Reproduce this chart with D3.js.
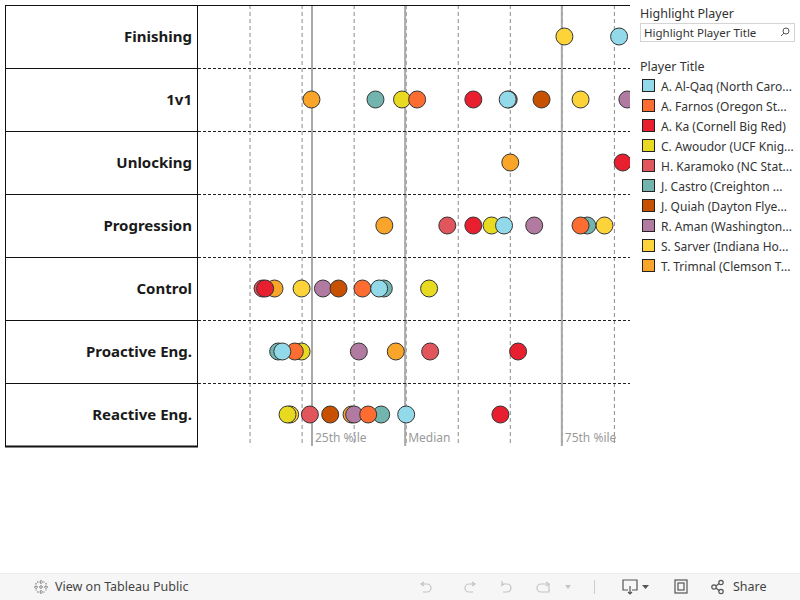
<!DOCTYPE html>
<html><head><meta charset="utf-8">
<script src="https://cdn.jsdelivr.net/npm/d3@7"></script>
<style>
html,body{margin:0;padding:0;background:#fff;}
svg{display:block;font-family:"Noto Sans","DejaVu Sans",sans-serif;}
</style></head>
<body><svg id="chart" width="800" height="600"></svg>
<script>
// ---- DATA ----
const metrics = ["Finishing","1v1","Unlocking","Progression","Control","Proactive Eng.","Reactive Eng."];
const players = ["A. Al-Qaq (North Caro...","A. Farnos (Oregon St...","A. Ka (Cornell Big Red)","C. Awoudor (UCF Knig...","H. Karamoko (NC Stat...","J. Castro (Creighton ...","J. Quiah (Dayton Flye...","R. Aman (Washington...","S. Sarver (Indiana Ho...","T. Trimnal (Clemson T..."];
const playerColors = ["#92dae9","#fd6d31","#e81f2f","#e7da21","#e0565c","#72b5af","#c75100","#b07aa1","#fcd43a","#f8a52a"];
// one value per metric (in metric order); null = not shown
const alQaq    = [8.09, 5.95, null, 5.88, 3.48, 1.62, 4.00];
const farnos   = [null, 4.21, null, 7.35, 3.16, 1.86, 3.27];
const ka       = [null, 5.29, 8.16, 5.29, 1.29, 6.15, 5.81];
const awoudor  = [null, 3.92, null, 5.64, 4.44, 1.99, 1.72];
const karamoko = [null, 5.97, null, 4.79, 1.24, 4.46, 2.15];
const castro   = [null, 3.41, null, 7.48, 3.57, 1.54, 3.52];
const quiah    = [null, 6.60, null, null, 2.70, null, 2.54];
const aman     = [null, 8.25, null, 6.46, 2.40, 3.09, 3.00];
const sarver   = [7.04, 7.35, null, 7.81, 1.99, null, 1.77];
const trimnal  = [null, 2.18, 6.00, 3.58, 1.47, 3.80, 2.95];
const playerValues = [alQaq, farnos, ka, awoudor, karamoko, castro, quiah, aman, sarver, trimnal];
const gridTicks = [1,2,3,4,5,6,7,8];
const refValues = [2.19, 3.98, 6.99];
const refLabels = ["25th %ile","Median","75th %ile"];

// ---- LAYOUT ----
const svg = d3.select("#chart");
const labelLeft = 5, plotLeft = 198, plotRight = 630, topY = 5, bottomY = 446;

const x = d3.scaleLinear().domain([0, 8.3]).range([plotLeft, plotRight]);
const y = d3.scaleBand().domain(metrics).range([topY, bottomY]);

// clip
svg.append("defs").append("clipPath").attr("id","plotclip")
  .append("rect").attr("x",plotLeft).attr("y",topY).attr("width",plotRight-plotLeft).attr("height",bottomY-topY);

const plot = svg.append("g").attr("clip-path","url(#plotclip)");

// vertical dashed gridlines
plot.selectAll("line.grid").data(gridTicks).join("line")
  .attr("x1",d=>x(d)).attr("x2",d=>x(d)).attr("y1",topY).attr("y2",bottomY)
  .attr("stroke","#8a8a8a").attr("stroke-width",1).attr("stroke-dasharray","4,3");

// reference lines
plot.selectAll("line.ref").data(refValues).join("line")
  .attr("x1",d=>x(d)).attr("x2",d=>x(d)).attr("y1",topY).attr("y2",bottomY)
  .attr("stroke","#a9a9a9").attr("stroke-width",2);

// horizontal dashed row separators in plot
const inner = metrics.slice(1);
plot.selectAll("line.row").data(inner).join("line")
  .attr("x1",plotLeft).attr("x2",plotRight).attr("y1",d=>Math.round(y(d))+0.5).attr("y2",d=>Math.round(y(d))+0.5)
  .attr("stroke","#222").attr("stroke-width",1).attr("stroke-dasharray","3,2");

// ref labels
svg.selectAll("text.ref").data(refValues).join("text")
  .attr("x",d=>x(d)+3).attr("y",bottomY-4)
  .attr("font-size",12).attr("fill","#9a9a9a").text((d,i)=>refLabels[i]);

// dots: earlier players drawn on top
const dots = [];
for (let p = players.length-1; p >= 0; p--) {
  playerValues[p].forEach((v,m)=>{ if (v!==null) dots.push({p, m, v}); });
}
plot.selectAll("circle.dot").data(dots).join("circle")
  .attr("cx",d=>x(d.v)).attr("cy",d=>y(metrics[d.m])+y.bandwidth()/2)
  .attr("r",8.5).attr("fill",d=>playerColors[d.p])
  .attr("stroke","#333").attr("stroke-width",1);

// label panel
const lab = svg.append("g");
metrics.forEach((m,i)=>{
  lab.append("text").attr("x",192).attr("y",y(m)+y.bandwidth()/2+5)
    .attr("text-anchor","end").attr("font-size",15).attr("font-weight","bold").attr("fill","#1a1a1a").text(m);
});
lab.selectAll("line.sep").data(inner).join("line")
  .attr("x1",labelLeft).attr("x2",plotLeft).attr("y1",d=>Math.round(y(d))+0.5).attr("y2",d=>Math.round(y(d))+0.5)
  .attr("stroke","#111").attr("stroke-width",1);
// borders
svg.append("line").attr("x1",labelLeft).attr("x2",plotLeft-1).attr("y1",topY+0.5).attr("y2",topY+0.5).attr("stroke","#111");
svg.append("line").attr("x1",plotLeft).attr("x2",plotRight).attr("y1",topY+0.5).attr("y2",topY+0.5).attr("stroke","#111");
svg.append("line").attr("x1",labelLeft+0.5).attr("x2",labelLeft+0.5).attr("y1",topY).attr("y2",bottomY).attr("stroke","#111");
svg.append("line").attr("x1",plotLeft-0.5).attr("x2",plotLeft-0.5).attr("y1",topY).attr("y2",bottomY).attr("stroke","#111");
svg.append("line").attr("x1",labelLeft).attr("x2",plotLeft).attr("y1",bottomY+0.5).attr("y2",bottomY+0.5).attr("stroke","#111").attr("stroke-width",2);

// ---- LEGEND ----
const lg = svg.append("g");
lg.append("text").attr("x",640).attr("y",18).attr("font-size",12.5).attr("fill","#333").text("Highlight Player");
lg.append("rect").attr("x",640.5).attr("y",23.5).attr("width",154).attr("height",18).attr("fill","#fff").attr("stroke","#d4d4d4");
lg.append("text").attr("x",644).attr("y",37).attr("font-size",11.5).attr("fill","#333").text("Highlight Player Title");
lg.append("circle").attr("cx",786).attr("cy",31).attr("r",3).attr("fill","none").attr("stroke","#555").attr("stroke-width",1);
lg.append("line").attr("x1",784).attr("y1",33).attr("x2",781).attr("y2",36).attr("stroke","#555").attr("stroke-width",1);
lg.append("text").attr("x",640).attr("y",71).attr("font-size",12.5).attr("fill","#333").text("Player Title");
const items = lg.selectAll("g.item").data(players).join("g").attr("transform",(d,i)=>`translate(0,${86+i*20})`);
items.append("rect").attr("x",642.5).attr("y",-6.5).attr("width",12).attr("height",12)
  .attr("fill",(d,i)=>playerColors[i]).attr("stroke","#222").attr("stroke-width",1);
items.append("text").attr("x",661).attr("y",4.5).attr("font-size",12).attr("fill","#333").text(d=>d);

// ---- TOOLBAR ----
const tb = svg.append("g");
tb.append("rect").attr("x",0).attr("y",573).attr("width",800).attr("height",27).attr("fill","#f6f6f6");
tb.append("line").attr("x1",0).attr("x2",800).attr("y1",573.5).attr("y2",573.5).attr("stroke","#ececec");
const logo = tb.append("g").attr("stroke","#666").attr("stroke-width",1);
[[41,580,41,594],[34,587,48,587],[36,583,36,591],[46,583,46,591],[37,582,45,582],[37,592,45,592]].forEach(l=>{
  logo.append("line").attr("x1",l[0]).attr("y1",l[1]).attr("x2",l[2]).attr("y2",l[3]).attr("stroke-dasharray","1.5,1");
});
tb.append("text").attr("x",55).attr("y",591).attr("font-size",12.5).attr("fill","#444").text("View on Tableau Public");
const ic = tb.append("g").attr("fill","none").attr("stroke","#c4c4c4").attr("stroke-width",1.2);
ic.append("path").attr("d","M424,582 l-3,2 l3,2 M421,584 h6 a4,4 0 0 1 0,8 h-4");
ic.append("path").attr("d","M472,582 l3,2 l-3,2 M475,584 h-6 a4,4 0 0 0 0,8 h4");
ic.append("path").attr("d","M502,581 v5 M504,584 l-3,2 M502,584 h5 a4,4 0 0 1 0,8 h-4");
ic.append("path").attr("d","M547,584 h-6 a4,4 0 0 0 0,8 h8 v-8 M546,582 l3,2 l-3,2");
tb.append("path").attr("d","M565,585 h6 l-3,4 z").attr("fill","#c4c4c4");
tb.append("line").attr("x1",594.5).attr("x2",594.5).attr("y1",580).attr("y2",594).attr("stroke","#ccc");
const ic2 = tb.append("g").attr("fill","none").attr("stroke","#555").attr("stroke-width",1.2);
ic2.append("path").attr("d","M628,590 h-5 v-10 h14 v10 h-5 M630,586 v8 M628,592 l2,2 l2,-2");
tb.append("path").attr("d","M642,585 h7 l-3.5,4 z").attr("fill","#555");
ic2.append("rect").attr("x",675).attr("y",580).attr("width",12).attr("height",13);
ic2.append("rect").attr("x",678).attr("y",583).attr("width",6).attr("height",7);
ic2.append("circle").attr("cx",714).attr("cy",587).attr("r",2.2);
ic2.append("circle").attr("cx",721).attr("cy",582.5).attr("r",2.2);
ic2.append("circle").attr("cx",721).attr("cy",591.5).attr("r",2.2);
ic2.append("path").attr("d","M716,586 l3,-2.5 M716,588 l3,2.5");
tb.append("text").attr("x",733).attr("y",591).attr("font-size",12.5).attr("fill","#444").text("Share");
</script></body></html>
